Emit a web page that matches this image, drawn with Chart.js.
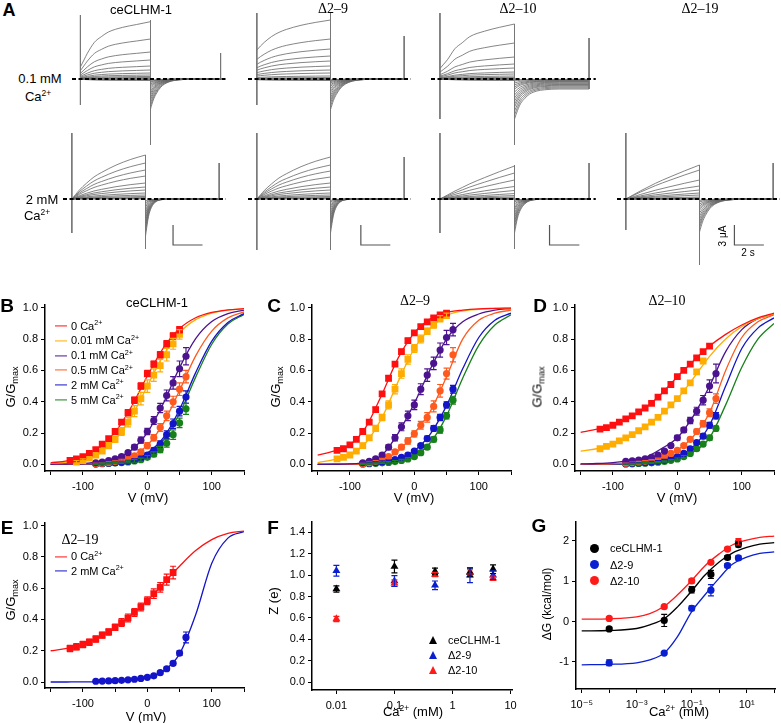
<!DOCTYPE html>
<html>
<head>
<meta charset="utf-8">
<title>ceCLHM-1 Ca2+ dependence</title>
<script src="https://cdn.jsdelivr.net/npm/chart.js@4.4.1/dist/chart.umd.min.js"></script>
<style>
  html, body { margin: 0; padding: 0; background: #fff; }
  body { position: relative; width: 781px; height: 723px; overflow: hidden; font-family: "Liberation Sans", Arial, sans-serif; color: #000; }
  canvas { position: absolute; }
  .lbl { position: absolute; white-space: nowrap; line-height: 1; }
  .lbl sup { font-size: 0.65em; position: relative; top: -0.6em; vertical-align: baseline; }
  .lbl sub { font-size: 0.7em; position: relative; top: 0.35em; vertical-align: baseline; }
  .serif { font-family: "Liberation Serif", "Times New Roman", serif; }
  .key { display: inline-block; width: 12px; border-top: 1.5px solid; vertical-align: middle; margin-right: 4px; position: relative; top: -1px; }
  .tri { position: absolute; width: 0; height: 0; border-left: 4.5px solid transparent; border-right: 4.5px solid transparent; border-bottom: 8px solid; }
  .dot { position: absolute; width: 9px; height: 9px; border-radius: 50%; }
</style>
</head>
<body>
<script>
// ---------- panel A : current traces (uA against s) ----------
const stepS = 5;
const actT = [0, 0.25, 0.5, 1, 1.5, 2, 3, 4, 5];
const tailT = [0, 0.2, 0.4, 0.7, 1, 1.5, 2, 3, 5];

// activation time course, fraction of the end-of-step current
const actWt01 = [0.21, 0.33, 0.45, 0.64, 0.74, 0.82, 0.9, 0.95, 1];
const actD9_01 = [0.49, 0.56, 0.62, 0.72, 0.79, 0.84, 0.91, 0.96, 1];
const actD10_01 = [0.19, 0.27, 0.35, 0.55, 0.66, 0.77, 0.87, 0.94, 1];
const actCa2a = [0, 0.1, 0.2, 0.36, 0.5, 0.6, 0.77, 0.9, 1];
const actCa2b = [0, 0.06, 0.12, 0.24, 0.35, 0.46, 0.65, 0.83, 1];

// tail time course, fraction of the peak tail current
const tailSlow = [1, 0.7, 0.5, 0.29, 0.17, 0.07, 0.03, 0.005, 0];
const tailMid = [1, 0.56, 0.32, 0.14, 0.057, 0.014, 0.003, 0, 0];
const tailFast = [1, 0.48, 0.23, 0.075, 0.025, 0.004, 0, 0, 0];
const tailPlateau = [1, 0.79, 0.62, 0.48, 0.38, 0.3, 0.27, 0.25, 0.25];

// end-of-step and peak tail currents (uA)
const stepWt01 = [8.6, 6.0, 4.05, 2.85, 1.95, 1.35, 0.9, 0.6, 0.38, 0.22, 0.1, 0, -0.08, -0.15, -0.22];
const tailWt01 = [-4.5, -4.05, -3.6, -3.15, -2.78, -2.4, -2.1, -1.8, -1.5, -1.2, -0.98, -0.75, -0.52, -0.38, -0.22];
const stepD9_01 = [8.85, 6.0, 4.5, 3.45, 2.7, 1.95, 1.35, 0.9, 0.45, 0.22, 0.08, 0, -0.08, -0.15, -0.22];
const tailD9_01 = [-4.6, -4.1, -3.6, -3.2, -2.8, -2.4, -2.0, -1.7, -1.4, -1.1, -0.85, -0.6, -0.4, -0.25, -0.12];
const stepD10_01 = [8.25, 5.4, 3.3, 2.25, 1.65, 1.05, 0.75, 0.45, 0.25, 0.12, 0.05, 0, -0.08, -0.15, -0.22];
const tailD10_01 = [-6.0, -5.4, -4.8, -4.2, -3.75, -3.3, -2.85, -2.4, -1.95, -1.5, -1.2, -0.9, -0.6, -0.3, -0.15];
const stepWt2 = [6.6, 5.4, 4.35, 3.45, 2.4, 1.8, 1.35, 0.9, 0.6, 0.38, 0.22, 0.08, 0];
const tailWt2 = [-5.55, -4.95, -4.35, -3.9, -3.45, -3.0, -2.55, -2.1, -1.65, -1.2, -0.9, -0.6, -0.3];
const stepD9_2 = [6.3, 5.1, 4.2, 3.3, 2.4, 1.8, 1.35, 0.9, 0.6, 0.38, 0.22, 0.08, 0];
const tailD9_2 = [-5.1, -4.5, -4.05, -3.6, -3.15, -2.7, -2.25, -1.8, -1.35, -1.05, -0.75, -0.45, -0.22];
const stepD10_2 = [4.95, 3.9, 2.85, 1.88, 1.28, 0.82, 0.52, 0.3, 0.15, 0.08, 0.03, 0, -0.05];
const tailD10_2 = [-5.1, -4.5, -3.9, -3.45, -3.0, -2.55, -2.1, -1.65, -1.35, -1.05, -0.75, -0.45, -0.22];
const stepD19_2 = [5.1, 4.35, 2.85, 1.95, 1.35, 0.9, 0.6, 0.3, 0.15, 0.08, 0.03, 0, -0.05];
const tailD19_2 = [-4.95, -4.35, -3.9, -3.45, -3.0, -2.55, -2.1, -1.65, -1.35, -1.05, -0.75, -0.45, -0.22];

// capacitive transients: onset top/bottom, offset top/bottom, end top/bottom (uA)
const spikeWt01 = [9.6, -3.9, 8.85, -9.9, 3.9, 0];
const spikeD9_01 = [9.9, -3.9, 9.9, -9.6, 6.45, 0];
const spikeD10_01 = [9.9, -6.0, 8.25, -9.9, 6.15, -1.5];
const spikeWt2 = [9.9, -5.1, 6.6, -7.5, 5.4, 0];
const spikeD9_2 = [9.9, -7.65, 9.9, -7.65, 6.3, 0];
const spikeD10_2 = [9.9, -5.1, 5.1, -7.5, 5.4, 0];
const spikeD19_2 = [9.9, -4.65, 5.1, -9.9, 5.4, 0];

const barUA = 3;
const barS = 2;

// ---------- panels B-E : G/Gmax against V ----------
const v120to50 = [-120, -110, -100, -90, -80, -70, -60, -50, -40, -30, -20, -10, 0, 10, 20, 30, 40, 50];
const v110to50 = [-110, -100, -90, -80, -70, -60, -50, -40, -30, -20, -10, 0, 10, 20, 30, 40, 50];
const v120to40 = [-120, -110, -100, -90, -80, -70, -60, -50, -40, -30, -20, -10, 0, 10, 20, 30, 40];
const v80to60 = [-80, -70, -60, -50, -40, -30, -20, -10, 0, 10, 20, 30, 40, 50, 60];
const fitV = [-150, -125, -100, -75, -50, -25, 0, 25, 50, 75, 100, 125, 150];

const caLabels = ['0', '0.01 mM', '0.1 mM', '0.5 mM', '2 mM', '5 mM'];

// B ceCLHM-1
const gB0 = [0.025, 0.035, 0.05, 0.07, 0.095, 0.13, 0.165, 0.21, 0.27, 0.33, 0.41, 0.5, 0.58, 0.64, 0.7, 0.77, 0.82, 0.86];
const gB001 = [0.015, 0.025, 0.04, 0.06, 0.085, 0.12, 0.16, 0.21, 0.27, 0.34, 0.42, 0.5, 0.57, 0.63, 0.7, 0.77, 0.83];
const gB01 = [0.01, 0.015, 0.025, 0.035, 0.05, 0.075, 0.11, 0.155, 0.21, 0.28, 0.36, 0.44, 0.52, 0.61, 0.69];
const gB05 = [0.005, 0.008, 0.012, 0.018, 0.027, 0.038, 0.055, 0.08, 0.12, 0.17, 0.235, 0.31, 0.4, 0.48, 0.56];
const gB2 = [0.004, 0.006, 0.008, 0.011, 0.015, 0.02, 0.028, 0.04, 0.06, 0.09, 0.13, 0.19, 0.26, 0.34, 0.43];
const gB5 = [0.003, 0.005, 0.007, 0.009, 0.012, 0.016, 0.022, 0.03, 0.045, 0.065, 0.095, 0.135, 0.19, 0.265, 0.355];
const errB0 = [0.01, 0.01, 0.01, 0.01, 0.01, 0.01, 0.01, 0.015, 0.015, 0.02, 0.02, 0.02, 0.02, 0.02, 0.02, 0.02, 0.02, 0.02];
const errB001 = [0.01, 0.01, 0.01, 0.015, 0.015, 0.02, 0.02, 0.025, 0.03, 0.035, 0.04, 0.04, 0.04, 0.04, 0.04, 0.035, 0.03];
const errB01 = [0.005, 0.005, 0.005, 0.005, 0.01, 0.01, 0.015, 0.02, 0.02, 0.025, 0.03, 0.035, 0.04, 0.05, 0.055];
const errB05 = [0.003, 0.003, 0.004, 0.005, 0.006, 0.008, 0.01, 0.015, 0.02, 0.02, 0.025, 0.03, 0.035, 0.04, 0.04];
const errB2 = [0.003, 0.003, 0.003, 0.004, 0.005, 0.006, 0.008, 0.01, 0.012, 0.015, 0.02, 0.025, 0.03, 0.03, 0.04];
const errB5 = [0.003, 0.003, 0.003, 0.004, 0.005, 0.006, 0.008, 0.01, 0.012, 0.015, 0.02, 0.025, 0.03, 0.03, 0.035];
const fitB0 = [0.01, 0.023, 0.049, 0.103, 0.205, 0.366, 0.564, 0.744, 0.867, 0.936, 0.97, 0.986, 0.994];
const fitB001 = [0.007, 0.015, 0.035, 0.076, 0.159, 0.303, 0.5, 0.697, 0.841, 0.924, 0.966, 0.985, 0.993];
const fitB01 = [0.001, 0.0025, 0.006, 0.016, 0.038, 0.091, 0.203, 0.39, 0.618, 0.803, 0.912, 0.963, 0.985];
const fitB05 = [0.0005, 0.0014, 0.0034, 0.0087, 0.022, 0.053, 0.123, 0.262, 0.472, 0.693, 0.851, 0.935, 0.973];
const fitB2 = [0.0002, 0.0006, 0.0017, 0.0044, 0.011, 0.029, 0.073, 0.171, 0.351, 0.586, 0.787, 0.906, 0.962];
const fitB5 = [0.0002, 0.0006, 0.0015, 0.0039, 0.01, 0.026, 0.066, 0.156, 0.325, 0.557, 0.767, 0.896, 0.957];

// C delta2-9
const gC0 = [0.09, 0.1, 0.125, 0.16, 0.21, 0.27, 0.35, 0.45, 0.55, 0.64, 0.72, 0.79, 0.84, 0.88, 0.91, 0.935, 0.955, 0.965];
const gC001 = [0.035, 0.045, 0.06, 0.085, 0.12, 0.17, 0.23, 0.3, 0.38, 0.48, 0.58, 0.67, 0.74, 0.8, 0.85, 0.89, 0.93, 0.95];
const gC01 = [0.01, 0.02, 0.035, 0.06, 0.11, 0.17, 0.24, 0.31, 0.38, 0.48, 0.57, 0.645, 0.73, 0.81, 0.86];
const gC05 = [0.005, 0.01, 0.02, 0.03, 0.05, 0.08, 0.11, 0.15, 0.195, 0.25, 0.3, 0.37, 0.47, 0.58, 0.7];
const gC2 = [0.005, 0.008, 0.012, 0.017, 0.023, 0.03, 0.045, 0.06, 0.085, 0.12, 0.165, 0.23, 0.3, 0.38, 0.48];
const gC5 = [0.003, 0.005, 0.007, 0.01, 0.013, 0.018, 0.025, 0.035, 0.05, 0.075, 0.11, 0.16, 0.22, 0.31, 0.41];
const errC0 = [0.01, 0.01, 0.01, 0.01, 0.012, 0.012, 0.015, 0.015, 0.015, 0.015, 0.015, 0.015, 0.012, 0.012, 0.01, 0.01, 0.01, 0.01];
const errC001 = [0.01, 0.01, 0.01, 0.01, 0.015, 0.015, 0.02, 0.02, 0.025, 0.03, 0.03, 0.03, 0.025, 0.025, 0.02, 0.02, 0.02, 0.015];
const errC01 = [0.005, 0.005, 0.01, 0.01, 0.015, 0.02, 0.025, 0.03, 0.03, 0.035, 0.04, 0.04, 0.045, 0.045, 0.04];
const errC05 = [0.003, 0.005, 0.005, 0.008, 0.01, 0.012, 0.015, 0.02, 0.02, 0.025, 0.03, 0.035, 0.04, 0.035, 0.045];
const errC2 = [0.003, 0.003, 0.004, 0.005, 0.005, 0.006, 0.008, 0.01, 0.01, 0.012, 0.015, 0.018, 0.02, 0.02, 0.025];
const errC5 = [0.003, 0.003, 0.003, 0.004, 0.005, 0.006, 0.007, 0.008, 0.01, 0.012, 0.014, 0.016, 0.02, 0.02, 0.025];
const fitC0 = [0.06, 0.085, 0.125, 0.24, 0.45, 0.68, 0.84, 0.93, 0.97, 0.985, 0.993, 0.996, 0.998];
const fitC001 = [0.012, 0.03, 0.06, 0.14, 0.3, 0.53, 0.74, 0.87, 0.95, 0.98, 0.99, 0.995, 0.998];
const fitC01 = [0.0005, 0.001, 0.003, 0.015, 0.06, 0.2, 0.39, 0.61, 0.8, 0.91, 0.96, 0.985, 0.995];
const fitC05 = [0, 0.0005, 0.001, 0.004, 0.025, 0.085, 0.2, 0.34, 0.56, 0.8, 0.92, 0.965, 0.985];
const fitC2 = [0, 0.0005, 0.001, 0.004, 0.014, 0.036, 0.087, 0.195, 0.375, 0.61, 0.81, 0.92, 0.965];
const fitC5 = [0, 0.0003, 0.0008, 0.003, 0.01, 0.025, 0.055, 0.14, 0.31, 0.55, 0.76, 0.89, 0.955];

// D delta2-10
const gD0 = [0.225, 0.235, 0.25, 0.27, 0.29, 0.31, 0.335, 0.36, 0.39, 0.43, 0.47, 0.51, 0.56, 0.6, 0.64, 0.68, 0.72, 0.755];
const gD001 = [0.1, 0.115, 0.13, 0.15, 0.17, 0.19, 0.215, 0.24, 0.27, 0.3, 0.34, 0.38, 0.42, 0.47, 0.52, 0.59, 0.66];
const gD01 = [0.02, 0.023, 0.028, 0.035, 0.045, 0.06, 0.085, 0.12, 0.17, 0.22, 0.28, 0.34, 0.41, 0.5, 0.58];
const gD05 = [0.008, 0.012, 0.016, 0.02, 0.027, 0.035, 0.05, 0.07, 0.09, 0.12, 0.16, 0.21, 0.26, 0.33, 0.42];
const gD2 = [0.005, 0.007, 0.009, 0.012, 0.015, 0.02, 0.027, 0.037, 0.05, 0.07, 0.1, 0.14, 0.18, 0.25, 0.31];
const gD5 = [0.003, 0.004, 0.006, 0.008, 0.01, 0.014, 0.019, 0.026, 0.035, 0.05, 0.07, 0.1, 0.13, 0.17, 0.23];
const errD0 = [0.008, 0.008, 0.008, 0.008, 0.008, 0.01, 0.01, 0.01, 0.01, 0.01, 0.01, 0.01, 0.01, 0.01, 0.01, 0.01, 0.012, 0.012];
const errD001 = [0.008, 0.008, 0.008, 0.008, 0.008, 0.01, 0.01, 0.01, 0.01, 0.01, 0.01, 0.01, 0.012, 0.012, 0.012, 0.015, 0.015];
const errD01 = [0.004, 0.004, 0.005, 0.005, 0.006, 0.008, 0.01, 0.012, 0.015, 0.015, 0.02, 0.025, 0.03, 0.04, 0.06];
const errD05 = [0.003, 0.003, 0.003, 0.004, 0.004, 0.005, 0.006, 0.008, 0.01, 0.01, 0.012, 0.015, 0.02, 0.025, 0.03];
const errD2 = [0.003, 0.003, 0.003, 0.003, 0.004, 0.004, 0.005, 0.006, 0.007, 0.008, 0.01, 0.012, 0.015, 0.018, 0.02];
const errD5 = [0.002, 0.002, 0.003, 0.003, 0.003, 0.004, 0.004, 0.005, 0.006, 0.007, 0.008, 0.01, 0.012, 0.015, 0.015];
const fitD0 = [0.205, 0.225, 0.25, 0.3, 0.36, 0.45, 0.56, 0.66, 0.755, 0.83, 0.89, 0.935, 0.965];
const fitD001 = [0.085, 0.1, 0.13, 0.18, 0.24, 0.32, 0.42, 0.55, 0.69, 0.8, 0.88, 0.93, 0.96];
const fitD01 = [0.003, 0.006, 0.012, 0.024, 0.045, 0.1, 0.17, 0.31, 0.5, 0.72, 0.86, 0.93, 0.96];
const fitD05 = [0.001, 0.002, 0.004, 0.01, 0.02, 0.042, 0.09, 0.18, 0.33, 0.6, 0.81, 0.91, 0.955];
const fitD2 = [0, 0.001, 0.002, 0.005, 0.012, 0.024, 0.05, 0.115, 0.25, 0.5, 0.74, 0.87, 0.935];
const fitD5 = [0, 0.0005, 0.001, 0.003, 0.008, 0.017, 0.035, 0.08, 0.17, 0.38, 0.62, 0.8, 0.9];

// E delta2-19
const gE0 = [0.215, 0.225, 0.24, 0.255, 0.275, 0.3, 0.32, 0.35, 0.38, 0.41, 0.445, 0.48, 0.52, 0.565, 0.605, 0.655, 0.7];
const gE2 = [0.005, 0.006, 0.007, 0.009, 0.011, 0.014, 0.018, 0.023, 0.03, 0.04, 0.06, 0.085, 0.12, 0.185, 0.285];
const errE0 = [0.02, 0.02, 0.02, 0.02, 0.02, 0.02, 0.02, 0.02, 0.025, 0.025, 0.025, 0.025, 0.025, 0.03, 0.03, 0.035, 0.04];
const errE2 = [0.003, 0.003, 0.003, 0.003, 0.003, 0.004, 0.004, 0.005, 0.005, 0.006, 0.008, 0.01, 0.012, 0.015, 0.035];
const fitE0 = [0.2, 0.215, 0.24, 0.29, 0.35, 0.43, 0.52, 0.63, 0.74, 0.84, 0.91, 0.95, 0.965];
const fitE2 = [0.0002, 0.0005, 0.001, 0.003, 0.008, 0.015, 0.03, 0.07, 0.18, 0.43, 0.76, 0.92, 0.962];

// ---------- panel F : Z against Ca2+ ----------
const constructs = ['ceCLHM-1', '\u03942-9', '\u03942-10'];
const caF = [0.01, 0.1, 0.5, 2, 5];
const zWt = [0.87, 1.08, 1.035, 1.025, 1.055];
const zD9 = [1.04, 0.945, 0.905, 1.0, 1.0];
const zD10 = [0.59, 0.925, 1.005, 1.03, 0.97];
const errZWt = [0.03, 0.06, 0.03, 0.04, 0.04];
const errZD9 = [0.05, 0.05, 0.04, 0.07, 0.04];
const errZD10 = [0.025, 0.03, 0.02, 0.02, 0.02];

// ---------- panel G : dG against Ca2+ ----------
const caG = [1e-4, 0.01, 0.1, 0.5, 2, 5];
const dgWt = [-0.18, 0.03, 0.79, 1.17, 1.59, 1.91];
const dgD9 = [-1.02, -0.78, 0.33, 0.78, 1.39, 1.58];
const dgD10 = [0.08, 0.37, 1.01, 1.47, 1.8, 1.98];
const errDgWt = [0.04, 0.15, 0.08, 0.1, 0.05, 0.06];
const errDgD9 = [0.07, 0.03, 0.06, 0.14, 0.05, 0.05];
const errDgD10 = [0.03, 0.03, 0.05, 0.04, 0.04, 0.08];
const fitCaG = [1e-5, 1e-4, 1e-3, 3e-3, 0.01, 0.03, 0.1, 0.3, 1, 3, 10, 30, 100];
const fitDgWt = [-0.23, -0.22, -0.17, -0.08, 0.07, 0.36, 0.76, 1.15, 1.48, 1.7, 1.84, 1.92, 1.96];
const fitDgD9 = [-1.07, -1.06, -1.02, -0.95, -0.78, -0.38, 0.25, 0.66, 1.08, 1.42, 1.6, 1.69, 1.73];
const fitDgD10 = [0.06, 0.07, 0.12, 0.2, 0.38, 0.66, 1.02, 1.38, 1.68, 1.9, 2.02, 2.09, 2.12];

// ---------- ticks ----------
const vTicks = [-150, -100, -50, 0, 50, 100, 150];
const vTickLabels = ['', '-100', '', '0', '', '100', ''];
const gTicks = [0, 0.2, 0.4, 0.6, 0.8, 1.0];
const gTickLabels = ['0.0', '0.2', '0.4', '0.6', '0.8', '1.0'];
const zTicks = [0, 0.2, 0.4, 0.6, 0.8, 1.0, 1.2, 1.4];
const zTickLabels = ['0.0', '0.2', '0.4', '0.6', '0.8', '1.0', '1.2', '1.4'];
const caTicksF = [0.01, 0.1, 1, 10];
const caTickLabelsF = ['0.01', '0.1', '1', '10'];
const caTicksG = [1e-5, 1e-4, 1e-3, 1e-2, 1e-1, 1, 10, 100];
const caTickLabelsG = ['10\u207B\u2075', '', '10\u207B\u00B3', '', '10\u207B\u00B9', '', '10\u00B9', ''];
const dgTicks = [-1, 0, 1, 2];
const dgTickLabels = ['-1', '0', '1', '2'];

// ---------- colours ----------
const cRed = '#ff1010', cOrange = '#ffad00', cPurple = '#4c1390', cOrRed = '#ff5a1e', cBlue = '#1414c8', cGreen = '#17801a';
const ivColors = [cRed, cOrange, cPurple, cOrRed, cBlue, cGreen];
const ivStyles = ['rect', 'rect', 'circle', 'circle', 'circle', 'circle'];
const fgColors = ['#000000', '#0a1fd0', '#ff1a1a'];

const TICK_FONT = '"Liberation Sans", Arial, "DejaVu Sans", sans-serif';
const AXIS_W = 40, AXIS_H = 24, PAD_T = 8, PAD_R = 12;

// ---------- helpers ----------
function place(left, top, w, h) {
    let c = document.createElement('canvas');
    c.width = w; c.height = h;
    c.style.left = left + 'px'; c.style.top = top + 'px';
    c.style.width = w + 'px'; c.style.height = h + 'px';
    document.body.appendChild(c);
    return c;
}

function label(html, x, y, opt) {
    opt = opt || {};
    let d = document.createElement('div');
    d.className = 'lbl' + (opt.serif ? ' serif' : '');
    d.innerHTML = html;
    d.style.left = x + 'px';
    d.style.top = y + 'px';
    d.style.fontSize = (opt.size || 13) + 'px';
    if (opt.bold) d.style.fontWeight = 'bold';
    let ax = opt.left ? '0' : '-50%';
    d.style.transform = 'translate(' + ax + ', -50%)' + (opt.rot ? ' rotate(-90deg)' : '');
    document.body.appendChild(d);
    return d;
}

const errorBars = {
    id: 'errorBars',
    afterDatasetsDraw(chart) {
        let ctx = chart.ctx;
        let ys = chart.scales.y;
        chart.data.datasets.forEach((ds, i) => {
            if (!ds.errors) return;
            let meta = chart.getDatasetMeta(i);
            ctx.save();
            ctx.strokeStyle = ds.borderColor;
            ctx.lineWidth = 1.2;
            ctx.beginPath();
            ds.data.forEach((p, j) => {
                let e = ds.errors[j];
                if (!e) return;
                let x = meta.data[j].x;
                let y1 = ys.getPixelForValue(p.y + e), y2 = ys.getPixelForValue(p.y - e);
                ctx.moveTo(x, y1); ctx.lineTo(x, y2);
                ctx.moveTo(x - 3, y1); ctx.lineTo(x + 3, y1);
                ctx.moveTo(x - 3, y2); ctx.lineTo(x + 3, y2);
            });
            ctx.stroke();
            ctx.restore();
        });
    }
};

const scaleBar = {
    id: 'scaleBar',
    afterDatasetsDraw(chart, args, opts) {
        if (!opts || opts.t === undefined) return;
        let ctx = chart.ctx, xs = chart.scales.x, ys = chart.scales.y;
        let x0 = xs.getPixelForValue(opts.t), x1 = xs.getPixelForValue(opts.t + barS);
        let y0 = ys.getPixelForValue(opts.y), y1 = ys.getPixelForValue(opts.y + barUA);
        ctx.save();
        ctx.strokeStyle = '#555';
        ctx.lineWidth = 1.2;
        ctx.beginPath();
        ctx.moveTo(x0, y1); ctx.lineTo(x0, y0); ctx.lineTo(x1, y0);
        ctx.stroke();
        ctx.restore();
    }
};

function axis(kind, o) {
    return {
        type: o.type || 'linear',
        min: o.min, max: o.max,
        border: { display: true, color: '#000', width: 1.5 },
        grid: { display: true, drawOnChartArea: false, drawTicks: true, tickLength: 4, color: '#000', lineWidth: 1 },
        ticks: {
            color: '#000', font: { family: TICK_FONT, size: 11 }, padding: kind === 'x' ? 5 : 3,
            autoSkip: false, maxRotation: 0, minRotation: 0,
            callback: (v, i) => o.labels[i]
        },
        afterBuildTicks: s => { s.ticks = o.ticks.map(v => ({ value: v })); },
        afterFit: s => { if (kind === 'x') s.height = AXIS_H; else s.width = AXIS_W; }
    };
}

function plotChart(box, datasets, xo, yo) {
    let cv = place(box.l - AXIS_W, box.t - PAD_T, box.r - box.l + AXIS_W + PAD_R, box.b - box.t + PAD_T + AXIS_H);
    return new Chart(cv, {
        type: 'line',
        data: { datasets: datasets },
        options: {
            responsive: false, animation: false, devicePixelRatio: 1,
            layout: { autoPadding: false, padding: { top: PAD_T, right: PAD_R, left: 0, bottom: 0 } },
            plugins: { legend: { display: false }, tooltip: { enabled: false } },
            scales: { x: axis('x', xo), y: axis('y', yo) }
        },
        plugins: [errorBars]
    });
}

function pts(xs, ys, color, style, errs) {
    let r = style === 'rect' ? 4.8 : (style === 'triangle' ? 4.6 : 3.6);
    return {
        data: xs.map((x, i) => ({ x: x, y: ys[i] })),
        showLine: false, pointStyle: style, pointRadius: r, pointBorderWidth: 0,
        pointBackgroundColor: color, pointBorderColor: color,
        borderColor: color, backgroundColor: color, errors: errs, order: 0
    };
}

function fitLine(xs, ys, color) {
    return {
        data: xs.map((x, i) => ({ x: x, y: ys[i] })),
        borderColor: color, borderWidth: 1.3, pointRadius: 0,
        cubicInterpolationMode: 'monotone', order: 1
    };
}

// ---------- panel A ----------
const A_XMIN = -0.6, A_XMAX = 10.6, A_YMIN = -10.5, A_YMAX = 10.5, PX_PER_UA = 6.67;

function traceChart(p) {
    let pps = (p.end - p.on) / (2 * stepS);
    let left = Math.round(p.on + A_XMIN * pps);
    let w = Math.round((A_XMAX - A_XMIN) * pps);
    let h = Math.round((A_YMAX - A_YMIN) * PX_PER_UA);
    let cv = place(left, p.top, w, h);

    let sets = [];
    sets.push({ data: [{ x: -0.6, y: 0 }, { x: 10.45, y: 0 }], borderColor: '#000', borderWidth: 2.2, borderDash: [4, 2.5], pointRadius: 0 });
    [0, stepS, 2 * stepS].forEach((t, k) => {
        sets.push({ data: [{ x: t, y: p.spikes[2 * k] }, { x: t, y: p.spikes[2 * k + 1] }], borderColor: '#777', borderWidth: 1, pointRadius: 0 });
    });
    p.step.forEach((a, i) => {
        sets.push({ data: actT.map((t, k) => ({ x: t, y: a * p.act[k] })), borderColor: '#666', borderWidth: 0.8, pointRadius: 0, cubicInterpolationMode: 'monotone' });
        sets.push({ data: tailT.map((t, k) => ({ x: stepS + t, y: p.tail[i] * p.decay[k] })), borderColor: '#666', borderWidth: 0.8, pointRadius: 0, cubicInterpolationMode: 'monotone' });
    });

    new Chart(cv, {
        type: 'line',
        data: { datasets: sets },
        options: {
            responsive: false, animation: false, devicePixelRatio: 1,
            layout: { autoPadding: false, padding: 0 },
            plugins: { legend: { display: false }, tooltip: { enabled: false }, scaleBar: p.bar || false },
            scales: {
                x: { type: 'linear', display: false, min: A_XMIN, max: A_XMAX },
                y: { type: 'linear', display: false, min: A_YMIN, max: A_YMAX }
            }
        },
        plugins: [scaleBar]
    });
}

const panelA = [
    { step: stepWt01, tail: tailWt01, act: actWt01, decay: tailSlow, spikes: spikeWt01, on: 80, end: 220, top: 9 },
    { step: stepD9_01, tail: tailD9_01, act: actD9_01, decay: tailSlow, spikes: spikeD9_01, on: 256.7, end: 404, top: 9 },
    { step: stepD10_01, tail: tailD10_01, act: actD10_01, decay: tailPlateau, spikes: spikeD10_01, on: 440, end: 588.7, top: 9 },
    { step: stepWt2, tail: tailWt2, act: actCa2a, decay: tailFast, spikes: spikeWt2, on: 72, end: 219, top: 129, bar: { t: 6.87, y: -6.9 } },
    { step: stepD9_2, tail: tailD9_2, act: actCa2a, decay: tailFast, spikes: spikeD9_2, on: 256.7, end: 404, top: 129, bar: { t: 7.06, y: -6.9 } },
    { step: stepD10_2, tail: tailD10_2, act: actCa2b, decay: tailMid, spikes: spikeD10_2, on: 440, end: 588.7, top: 129, bar: { t: 7.35, y: -6.9 } },
    { step: stepD19_2, tail: tailD19_2, act: actCa2b, decay: tailSlow, spikes: spikeD19_2, on: 625.7, end: 773, top: 129, bar: { t: 7.37, y: -6.9 } }
];
panelA.forEach(traceChart);

// ---------- panels B-E ----------
const vAxis = { min: -158.8, max: 150, ticks: vTicks, labels: vTickLabels };

function ivPanel(box, vs, gs, errs, fits, colors, styles, yMin, yMax) {
    let sets = [];
    gs.forEach((g, i) => sets.push(pts(vs[i], g, colors[i], styles[i], errs[i])));
    fits.forEach((f, i) => sets.push(fitLine(fitV, f, colors[i])));
    plotChart(box, sets, vAxis, { min: yMin, max: yMax, ticks: gTicks, labels: gTickLabels });
}

const vSix = [v120to50, v110to50, v80to60, v80to60, v80to60, v80to60];
ivPanel({ l: 45, r: 244, t: 303, b: 471 }, vSix,
    [gB0, gB001, gB01, gB05, gB2, gB5], [errB0, errB001, errB01, errB05, errB2, errB5],
    [fitB0, fitB001, fitB01, fitB05, fitB2, fitB5], ivColors, ivStyles, -0.042, 1.02);
ivPanel({ l: 312, r: 511, t: 303, b: 471 }, [v120to50, v120to50, v80to60, v80to60, v80to60, v80to60],
    [gC0, gC001, gC01, gC05, gC2, gC5], [errC0, errC001, errC01, errC05, errC2, errC5],
    [fitC0, fitC001, fitC01, fitC05, fitC2, fitC5], ivColors, ivStyles, -0.042, 1.02);
ivPanel({ l: 575, r: 774, t: 303, b: 471 }, [v120to50, v120to40, v80to60, v80to60, v80to60, v80to60],
    [gD0, gD001, gD01, gD05, gD2, gD5], [errD0, errD001, errD01, errD05, errD2, errD5],
    [fitD0, fitD001, fitD01, fitD05, fitD2, fitD5], ivColors, ivStyles, -0.042, 1.02);
ivPanel({ l: 45, r: 244, t: 521, b: 688 }, [v120to40, v80to60],
    [gE0, gE2], [errE0, errE2], [fitE0, fitE2], [cRed, cBlue], ['rect', 'circle'], -0.038, 1.019);

// ---------- panel F ----------
plotChart({ l: 312, r: 512, t: 520, b: 690 }, [
    pts(caF, zWt, fgColors[0], 'triangle', errZWt),
    pts(caF, zD10, fgColors[2], 'triangle', errZD10),
    pts(caF, zD9, fgColors[1], 'triangle', errZD9)
], { type: 'logarithmic', min: 0.0038, max: 10.6, ticks: caTicksF, labels: caTickLabelsF },
   { min: -0.074, max: 1.5, ticks: zTicks, labels: zTickLabels });

// ---------- panel G ----------
plotChart({ l: 576, r: 775, t: 520, b: 689 }, [
    pts(caG, dgWt, fgColors[0], 'circle', errDgWt),
    pts(caG, dgD9, fgColors[1], 'circle', errDgD9),
    pts(caG, dgD10, fgColors[2], 'circle', errDgD10),
    fitLine(fitCaG, fitDgWt, fgColors[0]),
    fitLine(fitCaG, fitDgD9, fgColors[1]),
    fitLine(fitCaG, fitDgD10, fgColors[2])
], { type: 'logarithmic', min: 6.2e-6, max: 107, ticks: caTicksG, labels: caTickLabelsG },
   { min: -1.67, max: 2.48, ticks: dgTicks, labels: dgTickLabels });

// ---------- text ----------
const ca = 'Ca<sup>2+</sup>';
const gmax = 'G/G<sub>max</sub>';

// panel letters
label('A', 9, 10, { bold: true, size: 18 });
label('B', 7, 305, { bold: true, size: 19 });
label('C', 274, 305, { bold: true, size: 19 });
label('D', 540, 305, { bold: true, size: 19 });
label('E', 7, 527, { bold: true, size: 19 });
label('F', 273, 527, { bold: true, size: 19 });
label('G', 539, 525, { bold: true, size: 19 });

// panel A
label('ceCLHM-1', 141, 9);
label('\u03942\u20139', 333, 9, { serif: true, size: 14 });
label('\u03942\u201310', 518, 9, { serif: true, size: 14 });
label('\u03942\u201319', 700, 9, { serif: true, size: 14 });
label('0.1 mM', 40, 78);
label(ca, 38, 96);
label('2 mM', 42, 199);
label(ca, 37, 215);
label('3 \u03BCA', 723, 236, { rot: true, size: 10 });
label('2 s', 748, 253, { size: 10 });

// panels B-D
label('ceCLHM-1', 157, 302);
label('\u03942\u20139', 415, 301, { serif: true, size: 14 });
label('\u03942\u201310', 667, 301, { serif: true, size: 14 });
label(gmax, 11, 387, { rot: true });
label(gmax, 276, 387, { rot: true });
label(gmax, 537, 387, { rot: true });
label('V (mV)', 148, 497);
label('V (mV)', 414, 497);
label('V (mV)', 677, 497);
caLabels.forEach((c, i) => {
    label('<span class="key" style="border-color:' + ivColors[i] + '"></span>' + c + ' ' + ca, 55, 326.5 + i * 14.8, { left: true, size: 11 });
});

// panel E
label('\u03942\u201319', 80, 540, { serif: true, size: 14 });
label(gmax, 11, 600, { rot: true });
label('V (mV)', 146, 716);
label('<span class="key" style="border-color:' + cRed + '"></span>' + caLabels[0] + ' ' + ca, 55, 557, { left: true, size: 11 });
label('<span class="key" style="border-color:' + cBlue + '"></span>' + caLabels[4] + ' ' + ca, 55, 571.5, { left: true, size: 11 });

// panel F
label('Z (e)', 273, 601, { rot: true });
label(ca + ' (mM)', 413, 711);
[640, 655, 670].forEach((y, i) => {
    let t = document.createElement('div');
    t.className = 'tri';
    t.style.left = '428.5px'; t.style.top = (y - 4.5) + 'px';
    t.style.borderBottomColor = fgColors[i];
    document.body.appendChild(t);
    label(constructs[i], 448, y, { left: true, size: 11 });
});

// panel G
label('\u0394G (kcal/mol)', 547, 604, { rot: true, size: 12 });
label(ca + ' (mM)', 679, 711);
[548, 564.5, 580.5].forEach((y, i) => {
    let d = document.createElement('div');
    d.className = 'dot';
    d.style.left = '589.5px'; d.style.top = (y - 4.5) + 'px';
    d.style.background = fgColors[i];
    document.body.appendChild(d);
    label(constructs[i], 610, y, { left: true, size: 11 });
});
</script>
</body>
</html>
